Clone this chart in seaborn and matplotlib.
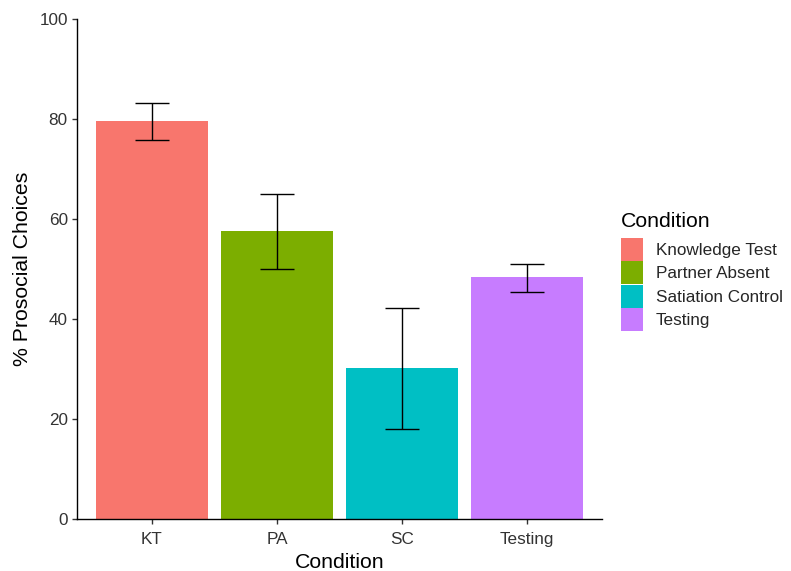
import numpy as np
import pandas as pd
import matplotlib
matplotlib.use("Agg")
import matplotlib.pyplot as plt
import seaborn as sns
from matplotlib.patches import Patch

# data
conditions = ["KT", "PA", "SC", "Testing"]
condition_names = ["Knowledge Test", "Partner Absent", "Satiation Control", "Testing"]
pct_prosocial = [79.6, 57.6, 30.1, 48.3]
err_upper = [83.2, 65.0, 42.1, 51.0]
err_lower = [75.8, 49.9, 17.9, 45.4]
colors = ["#F8766D", "#7CAE00", "#00BFC4", "#C77CFF"]

df = pd.DataFrame({
    "Condition": conditions,
    "Name": condition_names,
    "pct": pct_prosocial,
    "hi": err_upper,
    "lo": err_lower,
})

sns.set_style("white")
plt.rcParams["font.family"] = ["Liberation Sans", "DejaVu Sans"]

W, H = 791, 571
fig = plt.figure(figsize=(W / 100, H / 100), dpi=100)
ax = fig.add_axes([0.0973, 0.0911, 0.664, 0.8756])

sns.barplot(data=df, x="Condition", y="pct", hue="Condition", palette=colors,
            dodge=False, width=0.9, errorbar=None, legend=False, ax=ax,
            saturation=1, edgecolor="none")

x = np.arange(len(conditions))
yerr = [df["pct"] - df["lo"], df["hi"] - df["pct"]]
ax.errorbar(x, df["pct"], yerr=yerr, fmt="none", ecolor="black",
            elinewidth=1, capsize=12, capthick=1)

ax.set_xlim(-0.6, 3.6)
ax.set_ylim(0, 100)
ax.set_yticks([0, 20, 40, 60, 80, 100])
ax.set_xlabel("Condition", fontsize=15.3, color="black", labelpad=4.5)
ax.set_ylabel("% Prosocial Choices", fontsize=15.3, color="black", labelpad=5)
ax.tick_params(axis="both", labelsize=12.3, colors="#333333", length=3.6,
               width=1, left=True, bottom=True, direction="out", pad=3)
ax.tick_params(axis="x", pad=5.5)
ax.tick_params(axis="both", labelcolor="#333333")
for s in ["top", "right"]:
    ax.spines[s].set_visible(False)
for s in ["left", "bottom"]:
    ax.spines[s].set_color("black")
    ax.spines[s].set_linewidth(1)

# legend title drawn separately for tighter placement
fig.text(621 / W, 1 - 227 / H, "Condition", fontsize=15.3, color="black",
         ha="left", va="baseline")
handles = [Patch(facecolor=c, edgecolor="none") for c in colors]
fig.legend(handles, condition_names, loc="upper left",
           bbox_to_anchor=(621 / W, 1 - 238 / H), frameon=False, fontsize=12.3,
           borderpad=0, borderaxespad=0, handlelength=1.29, handleheight=1.68,
           labelspacing=0.03, handletextpad=0.76)

fig.savefig("out.png", dpi=100)
